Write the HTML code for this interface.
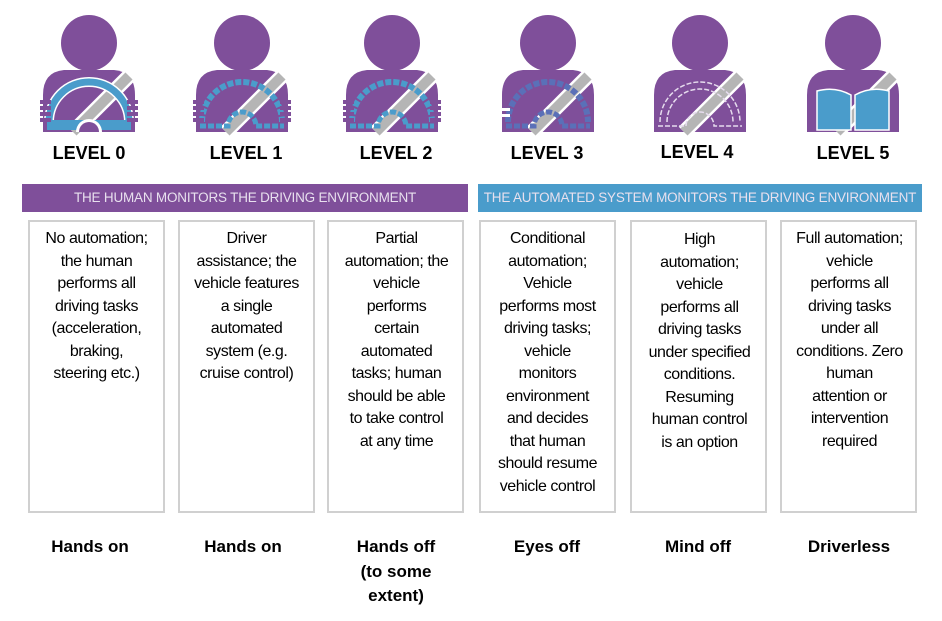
<!DOCTYPE html>
<html><head><meta charset="utf-8"><style>
body{margin:0;width:942px;height:621px;background:#fff;position:relative;overflow:hidden;font-family:"Liberation Sans",sans-serif;color:#000}
.lv{position:absolute;top:143px;width:150px;text-align:center;font-weight:bold;font-size:18px}
.bar{position:absolute;top:184px;height:28px;line-height:28px;text-align:center;color:#e8e0ee;font-size:13.5px;letter-spacing:-0.2px}
.box{position:absolute;top:220px;width:133px;border:2px solid #d0d0d0;box-sizing:content-box}
.t{position:absolute;top:228px;width:137px;text-align:center;font-size:16px;line-height:22.5px;letter-spacing:-0.45px}
.b{position:absolute;top:535px;width:150px;text-align:center;font-weight:bold;font-size:17px;line-height:24.5px}
</style></head><body>
<svg width="942" height="140" style="position:absolute;left:0;top:0">
<defs>
<g id="p">
<circle cx="0" cy="43" r="28" fill="#7f4f9a"/>
<path d="M-46 132 L-46 95 Q-46 72 -25 70 L25 70 Q46 72 46 95 L46 132 Z" fill="#7f4f9a"/>
<line x1="40" y1="76" x2="-16" y2="132" stroke="#fff" stroke-width="15"/>
<line x1="40" y1="76" x2="-16" y2="132" stroke="#b5b5b5" stroke-width="10"/>
</g>
<g id="h">
<rect x="-49" y="100" width="11" height="4" fill="#7f4f9a"/><rect x="-49" y="106" width="11" height="4" fill="#7f4f9a"/><rect x="-49" y="112" width="11" height="4" fill="#7f4f9a"/><rect x="-49" y="118" width="11" height="4" fill="#7f4f9a"/>
<rect x="38" y="100" width="11" height="4" fill="#7f4f9a"/><rect x="38" y="106" width="11" height="4" fill="#7f4f9a"/><rect x="38" y="112" width="11" height="4" fill="#7f4f9a"/><rect x="38" y="118" width="11" height="4" fill="#7f4f9a"/>
</g>
</defs>
<g transform="translate(89,0)"><use href="#p"/>
<path d="M-40 122 A40 40 0 0 1 40 122" fill="none" stroke="#fff" stroke-width="10"/>
<path d="M-40 122 A40 40 0 0 1 40 122" fill="none" stroke="#4a9ccb" stroke-width="7"/>
<rect x="-42" y="120" width="84" height="10" fill="#4a9ccb"/>
<path d="M-13 132 A13 13 0 0 1 13 132 Z" fill="#fff"/><path d="M-10 132 A10 10 0 0 1 10 132 Z" fill="#7f4f9a"/>
<use href="#h"/></g>
<g transform="translate(242,0)"><use href="#p"/>
<path d="M-40 122 A40 40 0 0 1 40 122" fill="none" stroke="#4a9ccb" stroke-width="6" stroke-dasharray="6 2"/>
<path d="M-42 126 L-14 126 A14 14 0 0 1 14 126 L42 126" fill="none" stroke="#4a9ccb" stroke-width="5" stroke-dasharray="6 2"/>
<use href="#h"/></g>
<g transform="translate(392,0)"><use href="#p"/>
<path d="M-40 122 A40 40 0 0 1 40 122" fill="none" stroke="#4a9ccb" stroke-width="6" stroke-dasharray="6 2"/>
<path d="M-42 126 L-14 126 A14 14 0 0 1 14 126 L42 126" fill="none" stroke="#4a9ccb" stroke-width="5" stroke-dasharray="6 2"/>
<use href="#h"/></g>
<g transform="translate(548,0)"><use href="#p"/>
<path d="M-40 122 A40 40 0 0 1 40 122" fill="none" stroke="#5a70b8" stroke-width="6" stroke-dasharray="6 2"/>
<path d="M-42 126 L-14 126 A14 14 0 0 1 14 126 L42 126" fill="none" stroke="#5a70b8" stroke-width="5" stroke-dasharray="6 2"/>
<rect x="-49" y="108" width="11" height="3" fill="#fff"/><rect x="-49" y="114" width="11" height="3" fill="#fff"/></g>
<g transform="translate(700,0)"><use href="#p"/>
<path d="M-40 122 A40 40 0 0 1 40 122" fill="none" stroke="#e6dcee" stroke-width="1.5" stroke-dasharray="5 2"/>
<path d="M-33 122 A33 33 0 0 1 33 122" fill="none" stroke="#e6dcee" stroke-width="1.5" stroke-dasharray="5 2"/>
<path d="M-42 126 L-14 126 A14 14 0 0 1 14 126 L42 126" fill="none" stroke="#e6dcee" stroke-width="1.5" stroke-dasharray="5 2"/></g>
<g transform="translate(853,0)"><use href="#p"/>
<path d="M-36 91 Q-18 86 -2 95 L-2 130 L-36 130 Z" fill="#4a9ccb" stroke="#fff" stroke-width="1.5"/>
<path d="M36 91 Q18 86 2 95 L2 130 L36 130 Z" fill="#4a9ccb" stroke="#fff" stroke-width="1.5"/></g>
</svg>
<div class="lv" style="left:14px">LEVEL 0</div>
<div class="lv" style="left:171px">LEVEL 1</div>
<div class="lv" style="left:321px">LEVEL 2</div>
<div class="lv" style="left:472px">LEVEL 3</div>
<div class="lv" style="left:622px;top:142px">LEVEL 4</div>
<div class="lv" style="left:778px">LEVEL 5</div>
<div class="bar" style="left:22px;width:446px;background:#7f4f9a">THE HUMAN MONITORS THE DRIVING ENVIRONMENT</div>
<div class="bar" style="left:478px;width:444px;background:#4a9ccb">THE AUTOMATED SYSTEM MONITORS THE DRIVING ENVIRONMENT</div>
<div class="box" style="left:28px;height:289px"></div>
<div class="box" style="left:178px;height:289px"></div>
<div class="box" style="left:327px;height:289px"></div>
<div class="box" style="left:479px;height:289px"></div>
<div class="box" style="left:630px;height:289px"></div>
<div class="box" style="left:780px;height:289px"></div>
<div class="t" style="left:28px">No automation;<br>the human<br>performs all<br>driving tasks<br>(acceleration,<br>braking,<br>steering etc.)</div>
<div class="t" style="left:178px">Driver<br>assistance; the<br>vehicle features<br>a single<br>automated<br>system (e.g.<br>cruise control)</div>
<div class="t" style="left:328px">Partial<br>automation; the<br>vehicle<br>performs<br>certain<br>automated<br>tasks; human<br>should be able<br>to take control<br>at any time</div>
<div class="t" style="left:479px">Conditional<br>automation;<br>Vehicle<br>performs most<br>driving tasks;<br>vehicle<br>monitors<br>environment<br>and decides<br>that human<br>should resume<br>vehicle control</div>
<div class="t" style="left:631px;top:229px">High<br>automation;<br>vehicle<br>performs all<br>driving tasks<br>under specified<br>conditions.<br>Resuming<br>human control<br>is an option</div>
<div class="t" style="left:781px">Full automation;<br>vehicle<br>performs all<br>driving tasks<br>under all<br>conditions. Zero<br>human<br>attention or<br>intervention<br>required</div>
<div class="b" style="left:15px">Hands on</div>
<div class="b" style="left:168px">Hands on</div>
<div class="b" style="left:321px">Hands off<br>(to some<br>extent)</div>
<div class="b" style="left:472px">Eyes off</div>
<div class="b" style="left:623px">Mind off</div>
<div class="b" style="left:774px">Driverless</div>
</body></html>
